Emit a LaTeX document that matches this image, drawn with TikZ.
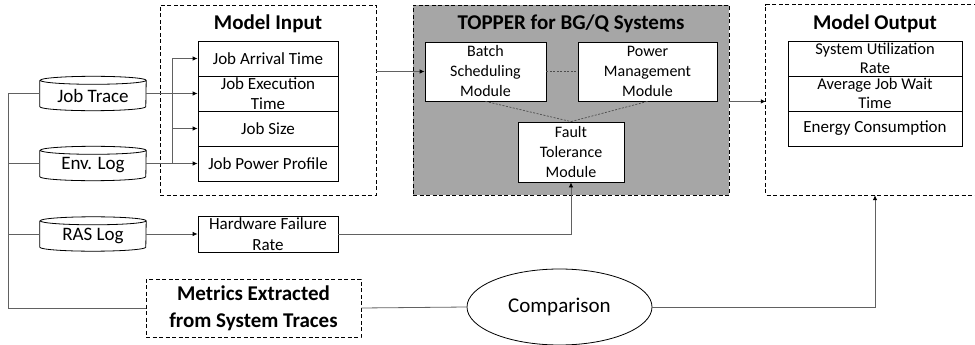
\documentclass[tikz,border=0pt]{standalone}
\usepackage{fontspec}
\setmainfont{Carlito}
\usetikzlibrary{arrows.meta,shapes.geometric,calc}
\begin{document}
\begin{tikzpicture}[x=1pt,y=-1pt,
  conn/.style={draw=black!62, line width=0.8pt},
  arr/.style={conn, -{Latex[length=5pt,width=4.5pt,black]}},
  item/.style={draw, line width=0.8pt, fill=white, minimum width=140pt, minimum height=35pt, inner sep=1pt, align=center, font=\fontsize{17}{20.5}\selectfont},
  tightitem/.style={item, font=\fontsize{16.5}{18.5}\selectfont},
  mbox/.style={draw, line width=0.8pt, fill=white, inner sep=1pt, align=center, font=\fontsize{16}{20}\selectfont},
  dbox/.style={draw, line width=0.9pt, dash pattern=on 4pt off 2.5pt},
  ttl/.style={font=\fontsize{21}{27}\selectfont\bfseries, inner sep=0pt, align=center},
  cylbody/.style={minimum width=106pt, minimum height=34pt, inner sep=0pt, font=\fontsize{19}{22}\selectfont},
  modlink/.style={draw=black!70, line width=0.7pt, dash pattern=on 2pt off 1.5pt}
]
\useasboundingbox (0,0) rectangle (975,345);
\newcommand\dbcyl[4]{%
  \node[cylbody] (#1) at (#2,#3) {};
  \draw[line width=0.8pt, fill=white] ([yshift=-4pt]#1.north west) -- ([yshift=4pt]#1.south west)
     arc[start angle=180,end angle=360,x radius=53pt,y radius=4pt]
     -- ([yshift=-4pt]#1.north east)
     arc[start angle=0,end angle=180,x radius=53pt,y radius=4pt]
     arc[start angle=180,end angle=360,x radius=53pt,y radius=4pt];
  \node[font=\fontsize{19}{22}\selectfont, inner sep=0pt] (#1t) at ([yshift=-2pt]#1.center) {#4};
}

% Model Input
\node[dbox, minimum width=216pt, minimum height=190pt] (mi) at (268,100) {};
\node[ttl] (mit) at (268,24) {Model Input};
\node[item] (arrival) at (268,58.5) {Job Arrival Time};
\node[item] (exec) at (268,93.5) {Job Execution\\Time};
\node[item] (size) at (268,128.5) {Job Size};
\node[item] (power) at (268,163.5) {Job Power Profile};

% TOPPER
\node[dbox, fill=black!35, minimum width=316pt, minimum height=190pt] (tp) at (571,100) {};
\node[ttl] (tpt) at (571,24) {TOPPER for BG/Q Systems};
\node[mbox, minimum width=121pt, minimum height=59pt] (batch) at (485.5,71.5) {Batch\\Scheduling\\Module};
\node[mbox, minimum width=139pt, minimum height=59pt] (pm) at (647.5,71.5) {Power\\Management\\Module};
\node[mbox, minimum width=106pt, minimum height=60pt] (ft) at (571,152) {Fault\\Tolerance\\Module};
\draw[modlink] (batch.east) -- (pm.west);
\draw[modlink] (batch.south) -- (ft.north);
\draw[modlink] (pm.south) -- (ft.north);

% Model Output
\node[minimum width=218pt, minimum height=190pt, inner sep=0pt] (mo) at (875,100) {};
\draw[dbox] (mo.north east) -- (mo.north west) -- (mo.south west) -- (mo.south east);
\node[ttl] (mot) at (875,24) {Model Output};
\node[tightitem, minimum width=174pt] (util) at (875,58.5) {System Utilization\\Rate};
\node[tightitem, minimum width=174pt] (wait) at (875,93.5) {Average Job Wait\\Time};
\node[item, minimum width=174pt] (energy) at (875,128.5) {Energy Consumption};

% Logs
\dbcyl{jt}{93}{93.5}{Job Trace}
\dbcyl{env}{93}{163.5}{Env. Log}
\dbcyl{ras}{93}{234}{RAS Log}
\node[item, minimum height=36pt] (hfr) at (268,234) {Hardware Failure\\Rate};

% Metrics and comparison
\node[dbox, minimum width=215pt, minimum height=58pt, ttl, inner sep=0pt] (met) at (253.5,308) {Metrics Extracted\\from System Traces};
\node[draw, line width=0.8pt, ellipse, minimum width=185pt, minimum height=76pt, inner sep=0pt, font=\fontsize{21}{25}\selectfont] (comp) at (559.5,307) {Comparison};

% Connectors
\coordinate (lt) at (8,93.5);
\coordinate (lb) at (8,308);
\coordinate (bx) at (172,0);
\draw[conn] (jt.west) -- (lt) -- (lb) -- (met.west);
\draw[conn] (env.west) -- (env.west -| lt);
\draw[conn] (ras.west) -- (ras.west -| lt);
\draw[arr] (jt.east) -- (exec.west);
\draw[arr] (env.east) -- (power.west);
\draw[conn] (arrival.west -| bx) -- (power.west -| bx);
\draw[arr] (arrival.west -| bx) -- (arrival.west);
\draw[arr] (size.west -| bx) -- (size.west);
\draw[arr] (ras.east) -- (hfr.west);
\draw[arr] (hfr.east) -| (ft.south);
\draw[arr] (batch.west -| mi.east) -- (batch.west);
\draw[arr] (pm.south -| tp.east) -- (pm.south -| mo.west);
\draw[conn] (met.east) -- (comp.west);
\draw[arr] (comp.east) -| (mo.south);
\end{tikzpicture}
\end{document}
